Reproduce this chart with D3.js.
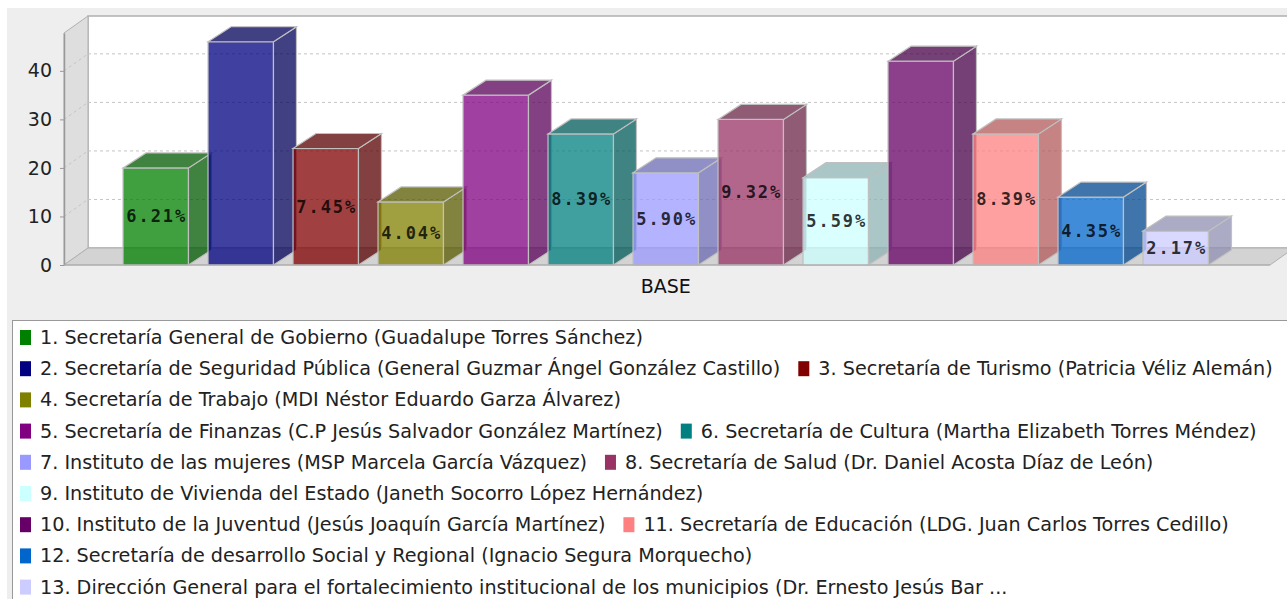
<!DOCTYPE html>
<html>
<head>
<meta charset="utf-8">
<script src="https://cdn.jsdelivr.net/npm/d3@7/dist/d3.min.js"></script>
<style>
  body { margin: 0; background: #fff; }
  svg { display: block; }
</style>
</head>
<body>
<svg id="chart" width="1287" height="599"></svg>
<script>
// data
let series = [
  "1. Secretaría General de Gobierno (Guadalupe Torres Sánchez)",
  "2. Secretaría de Seguridad Pública (General Guzmar Ángel González Castillo)",
  "3. Secretaría de Turismo (Patricia Véliz Alemán)",
  "4. Secretaría de Trabajo (MDI Néstor Eduardo Garza Álvarez)",
  "5. Secretaría de Finanzas (C.P Jesús Salvador González Martínez)",
  "6. Secretaría de Cultura (Martha Elizabeth Torres Méndez)",
  "7. Instituto de las mujeres (MSP Marcela García Vázquez)",
  "8. Secretaría de Salud (Dr. Daniel Acosta Díaz de León)",
  "9. Instituto de Vivienda del Estado (Janeth Socorro López Hernández)",
  "10. Instituto de la Juventud (Jesús Joaquín García Martínez)",
  "11. Secretaría de Educación (LDG. Juan Carlos Torres Cedillo)",
  "12. Secretaría de desarrollo Social y Regional (Ignacio Segura Morquecho)",
  "13. Dirección General para el fortalecimiento institucional de los municipios (Dr. Ernesto Jesús Bar ..."
];
let values = [20, 46, 24, 13, 35, 27, 19, 30, 18, 42, 27, 14, 7];
let colors = ["#008000", "#000080", "#800000", "#808000", "#800080", "#008080", "#9999ff",
              "#993366", "#ccffff", "#660066", "#ff8080", "#0066cc", "#ccccff"];
let showLabel = [true, false, true, true, false, true, true, true, true, false, true, true, true];
let category = "BASE";
let yTicks = [0, 10, 20, 30, 40];
let yMax = 47.8;
let legendRows = [[0], [1, 2], [3], [4, 5], [6, 7], [8], [9, 10], [11], [12]];

let width = 1287,
    height = 599,
    plot = {left: 64, right: 1270, top: 33, bottom: 265},
    wall = {dx: 24, dy: 17},
    depth = {dx: 23, dy: 15},
    alpha = 0.75;

let svg = d3.select("#chart");
let total = d3.sum(values);
let pct = d3.format(".2f");

function darker(c) {
  let r = d3.rgb(c);
  return d3.rgb(r.r * 0.7, r.g * 0.7, r.b * 0.7).formatHex();
}

function make_scales() {
  return {
    x: d3.scaleBand()
         .domain(d3.range(values.length))
         .range([113.25, 1218.25])
         .paddingInner(0.23)
         .paddingOuter(0.115),
    y: d3.scaleLinear()
         .domain([0, yMax])
         .range([plot.bottom, plot.top])
  };
}

function draw_frame(scales) {
  svg.append("rect")
    .attr("x", 7).attr("y", 8)
    .attr("width", width).attr("height", height)
    .attr("fill", "#eeeeee");

  let bx = plot.left + wall.dx, by = plot.top - wall.dy;
  // back wall
  svg.append("rect")
    .attr("x", bx).attr("y", by)
    .attr("width", width + 20 - bx).attr("height", plot.bottom - wall.dy - by)
    .attr("fill", "#fff").attr("stroke", "#b0b0b0").attr("stroke-width", 1.5);
  // left wall
  svg.append("polygon")
    .attr("points", [[plot.left, plot.bottom], [plot.left, plot.top], [bx, by], [bx, plot.bottom - wall.dy]].join(" "))
    .attr("fill", "#dedede").attr("stroke", "#b0b0b0");
  // floor
  svg.append("polygon")
    .attr("points", [[plot.left, plot.bottom], [bx, plot.bottom - wall.dy],
                     [plot.right + wall.dx, plot.bottom - wall.dy], [plot.right, plot.bottom]].join(" "))
    .attr("fill", "#d3d3d3").attr("stroke", "#b0b0b0");

  // grid lines on back and left wall
  let grid = svg.append("g")
    .attr("stroke", "#c4c4c4").attr("stroke-dasharray", "3,3").attr("fill", "none");
  yTicks.filter(t => t > 0).forEach(t => {
    let yy = scales.y(t);
    grid.append("line")
      .attr("x1", bx).attr("x2", width + 20)
      .attr("y1", yy - wall.dy).attr("y2", yy - wall.dy);
    grid.append("line")
      .attr("x1", plot.left).attr("x2", bx)
      .attr("y1", yy).attr("y2", yy - wall.dy);
  });
}

function add_axes(scales) {
  let y_axis = d3.axisLeft(scales.y)
    .tickValues(yTicks)
    .tickSize(4)
    .tickSizeOuter(0)
    .tickPadding(8);

  let g = svg.append("g")
    .attr("transform", `translate(${plot.left},0)`)
    .call(y_axis);
  g.select(".domain").attr("stroke", "#999").attr("stroke-width", 1.5);
  g.selectAll(".tick line").attr("stroke", "#999");
  g.selectAll(".tick text")
    .attr("fill", "#222")
    .style("font-family", "DejaVu Sans")
    .style("font-size", "19px");

  svg.append("line")
    .attr("x1", plot.left).attr("x2", plot.right)
    .attr("y1", plot.bottom).attr("y2", plot.bottom)
    .attr("stroke", "#aaa");

  let mid = (scales.x(0) + scales.x(values.length - 1) + scales.x.bandwidth()) / 2;
  svg.append("text")
    .attr("x", mid).attr("y", 293)
    .attr("text-anchor", "middle")
    .style("font-family", "DejaVu Sans")
    .style("font-size", "19px")
    .attr("fill", "#111")
    .text(category);
}

function draw_bars(scales) {
  let bw = scales.x.bandwidth(),
      y0 = scales.y(0);

  values.forEach((v, i) => {
    let x0 = scales.x(i), x1 = x0 + bw, yt = scales.y(v);
    let side = darker(colors[i]);
    let g = svg.append("g").attr("stroke", "#c0c0c0").attr("stroke-width", 1.2);

    g.append("rect")
      .attr("x", x0).attr("y", yt)
      .attr("width", bw).attr("height", y0 - yt)
      .attr("fill", colors[i]).attr("fill-opacity", alpha);
    g.append("polygon")
      .attr("points", [[x1, yt], [x1 + depth.dx, yt - depth.dy], [x1 + depth.dx, y0 - depth.dy], [x1, y0]].join(" "))
      .attr("fill", side).attr("fill-opacity", alpha);
    g.append("polygon")
      .attr("points", [[x0, yt], [x0 + depth.dx, yt - depth.dy], [x1 + depth.dx, yt - depth.dy], [x1, yt]].join(" "))
      .attr("fill", side).attr("fill-opacity", alpha);
  });

  values.forEach((v, i) => {
    if (!showLabel[i]) return;
    svg.append("text")
      .attr("x", scales.x(i) + bw / 2 + 1)
      .attr("y", (scales.y(v) + y0) / 2)
      .attr("text-anchor", "middle")
      .attr("dominant-baseline", "central")
      .style("font-family", "DejaVu Sans Mono")
      .style("font-weight", "bold")
      .style("font-size", "17px")
      .style("letter-spacing", "2px")
      .attr("fill", "#000").attr("fill-opacity", 0.8)
      .text(pct(v / total * 100) + "%");
  });
}

function draw_legend() {
  svg.append("rect")
    .attr("x", 12.5).attr("y", 320.5)
    .attr("width", 1300).attr("height", 300)
    .attr("fill", "#fff").attr("stroke", "#999");

  legendRows.forEach((row, r) => {
    let cy = 337.5 + r * 31.2,
        cx = 20;
    row.forEach(i => {
      svg.append("rect")
        .attr("x", cx).attr("y", cy - 7.5)
        .attr("width", 11).attr("height", 15)
        .attr("fill", colors[i]);
      let t = svg.append("text")
        .attr("x", cx + 20).attr("y", cy)
        .attr("dominant-baseline", "central")
        .style("font-family", "DejaVu Sans")
        .style("font-size", "19.2px")
        .attr("fill", "#222")
        .text(series[i]);
      cx += 20 + t.node().getComputedTextLength() + 18;
    });
  });
}

let scales = make_scales();
draw_frame(scales);
draw_bars(scales);
add_axes(scales);
draw_legend();
</script>
</body>
</html>
